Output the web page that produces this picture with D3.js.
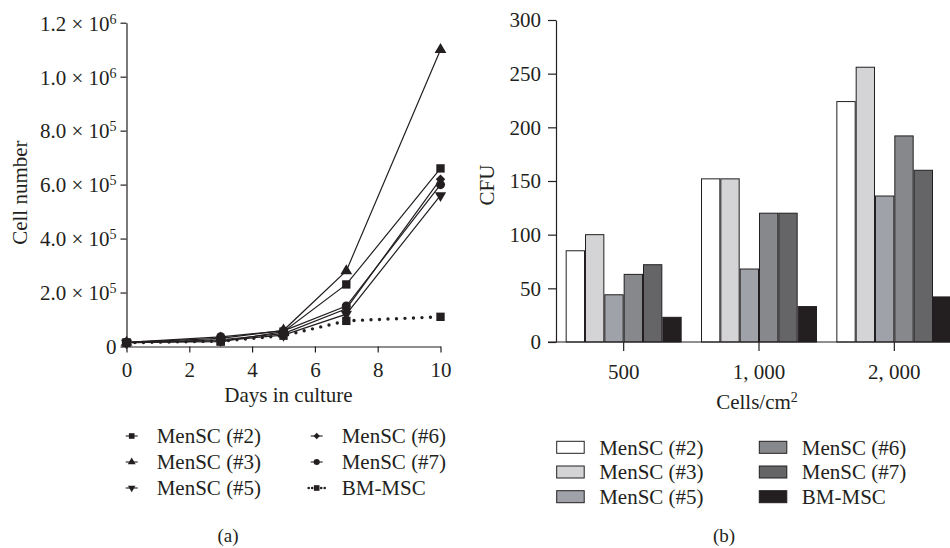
<!DOCTYPE html>
<html>
<head>
<meta charset="utf-8">
<script src="https://cdn.jsdelivr.net/npm/d3@7"></script>
<style>
  html, body { margin: 0; padding: 0; background: #fff; }
  svg { display: block; }
  text { font-family: "Liberation Serif", "Times New Roman", serif; fill: #231f20; }
</style>
</head>
<body>
<svg id="chart" width="950" height="548"></svg>
<script>
// ---------- Data: panel (a) growth curves ----------
const days = [0, 3, 5, 7, 10];
const growthSeries = ["MenSC (#2)", "MenSC (#3)", "MenSC (#5)", "MenSC (#6)", "MenSC (#7)", "BM-MSC"];
const menSC2 = [15000, 18000, 55000, 230000, 660000];
const menSC3 = [15000, 30000, 60000, 280000, 1100000];
const menSC5 = [13000, 22000, 42000, 120000, 560000];
const menSC6 = [14000, 25000, 48000, 140000, 620000];
const menSC7 = [15000, 36000, 58000, 150000, 600000];
const bmMSC  = [14000, 20000, 40000, 95000, 110000];
const growthYTicks = [0, 200000, 400000, 600000, 800000, 1000000, 1200000];
const growthXTicks = [0, 2, 4, 6, 8, 10];

// ---------- Data: panel (b) CFU ----------
const densities = ["500", "1, 000", "2, 000"];
const cfuSeries = ["MenSC (#2)", "MenSC (#3)", "MenSC (#5)", "MenSC (#6)", "MenSC (#7)", "BM-MSC"];
const cfuMenSC2 = [85, 152, 224];
const cfuMenSC3 = [100, 152, 256];
const cfuMenSC5 = [44, 68, 136];
const cfuMenSC6 = [63, 120, 192];
const cfuMenSC7 = [72, 120, 160];
const cfuBM     = [23, 33, 42];
const cfuYTicks = [0, 50, 100, 150, 200, 250, 300];

const ink = "#231f20";
const FS = "21px";
const SUP = "14px";
const svg = d3.select("#chart");

// =================== Panel (a) ===================
const A = { left: 126.5, right: 440.5, top: 22.7, bottom: 346.5 };
const xA = d3.scaleLinear().domain([0, 10]).range([A.left, A.right]);
const yA = d3.scaleLinear().domain([0, 1200000]).range([A.bottom, A.top]);

const gA = svg.append("g");

const xAxisA = d3.axisBottom(xA).tickValues(growthXTicks).tickSize(6).tickSizeOuter(0).tickFormat(d3.format("d"));
const gxA = gA.append("g").attr("transform", `translate(0,${A.bottom})`).call(xAxisA);
gxA.selectAll("text").attr("dy", 0).attr("y", 30).style("font-size", FS).style("font-family", "Liberation Serif");

const yAxisA = d3.axisLeft(yA).tickValues(growthYTicks).tickSize(6).tickSizeOuter(0).tickFormat(() => "");
const gyA = gA.append("g").attr("transform", `translate(${A.left},0)`).call(yAxisA);
[gxA, gyA].forEach(g => {
  g.select(".domain").attr("stroke", ink).attr("stroke-width", 1.2);
  g.selectAll(".tick line").attr("stroke", ink).attr("stroke-width", 1.2);
});
gyA.selectAll(".tick").each(function (d) {
  const t = d3.select(this).append("text")
    .attr("x", -10).attr("y", 0).attr("dy", "0.35em")
    .attr("text-anchor", "end")
    .style("font-size", FS);
  if (d === 0) { t.text("0"); return; }
  const exp = Math.floor(Math.log10(d));
  const mant = d / Math.pow(10, exp);
  t.append("tspan").text(mant.toFixed(1) + " \u00d7 10");
  t.append("tspan").attr("dy", "-0.5em").style("font-size", SUP).text(exp);
});

gA.append("text").attr("x", (A.left + A.right) / 2 + 5).attr("y", 402)
  .attr("text-anchor", "middle").style("font-size", FS).text("Days in culture");
gA.append("text").attr("transform", `translate(27,${(A.top + A.bottom) / 2 + 8}) rotate(-90)`)
  .attr("text-anchor", "middle").style("font-size", FS).text("Cell number");

const symSquare = d3.symbol().type(d3.symbolSquare);
const symTri = d3.symbol().type(d3.symbolTriangle);
const symCircle = d3.symbol().type(d3.symbolCircle);
const growthData = [
  { name: growthSeries[0], values: menSC2, shape: symSquare, size: 70, rot: 0, dotted: false },
  { name: growthSeries[1], values: menSC3, shape: symTri, size: 60, rot: 0, dotted: false },
  { name: growthSeries[2], values: menSC5, shape: symTri, size: 55, rot: 180, dotted: false },
  { name: growthSeries[3], values: menSC6, shape: symSquare, size: 45, rot: 45, dotted: false },
  { name: growthSeries[4], values: menSC7, shape: symCircle, size: 65, rot: 0, dotted: false },
  { name: growthSeries[5], values: bmMSC, shape: symSquare, size: 70, rot: 0, dotted: true }
];
const line = d3.line().x((d, i) => xA(days[i])).y(d => yA(d));
growthData.forEach(s => {
  gA.append("path").attr("d", line(s.values)).attr("fill", "none")
    .attr("stroke", ink)
    .attr("stroke-width", s.dotted ? 3.4 : 1.2)
    .attr("stroke-dasharray", s.dotted ? "0 8.5" : null)
    .attr("stroke-linecap", s.dotted ? "round" : "butt");
});
growthData.forEach(s => {
  gA.selectAll(null).data(s.values).enter().append("path")
    .attr("d", s.shape.size(s.size)())
    .attr("transform", (d, i) => `translate(${xA(days[i])},${yA(d)}) rotate(${s.rot})`)
    .attr("fill", ink);
});

// legend (a)
const legA = gA.append("g");
const legAPos = [[0, 0], [0, 1], [0, 2], [1, 0], [1, 1], [1, 2]];
growthData.forEach((s, i) => {
  const [c, r] = legAPos[i];
  const x0 = 131.7 + c * 185, y0 = 436 + r * 26;
  const g = legA.append("g").attr("transform", `translate(${x0},${y0})`);
  if (s.dotted) {
    [-8, -4.5, 4.5, 8].forEach(dx => g.append("circle").attr("cx", dx).attr("cy", 0).attr("r", 1.3).attr("fill", ink));
  } else {
    g.append("line").attr("x1", -6).attr("x2", 6).attr("stroke", ink).attr("stroke-width", 1.1);
  }
  g.append("path").attr("d", s.shape.size(s.size * 0.45)()).attr("transform", `rotate(${s.rot})`).attr("fill", ink);
  g.append("text").attr("x", 25).attr("y", 0).attr("dy", "0.35em").style("font-size", FS).text(s.name);
});
gA.append("text").attr("x", 228).attr("y", 535).attr("dy", "0.35em").attr("text-anchor", "middle")
  .style("font-size", "19px").text("(a)");

// =================== Panel (b) ===================
const B = { left: 556, top: 20, bottom: 342 };
const x0B = d3.scaleBand().domain(densities).range([556, 962]).padding(0);
const innerW = x0B.bandwidth() * 0.857;
const x1B = d3.scaleBand().domain(cfuSeries).range([0, innerW]).padding(0);
const yB = d3.scaleLinear().domain([0, 300]).range([B.bottom, B.top]);
const cfuColors = ["#ffffff", "#d4d4d6", "#a0a2aa", "#87888c", "#656568", "#231f20"];
const cfuValues = [cfuMenSC2, cfuMenSC3, cfuMenSC5, cfuMenSC6, cfuMenSC7, cfuBM];
const color = d3.scaleOrdinal().domain(cfuSeries).range(cfuColors);

const gB = svg.append("g");
densities.forEach((dens, di) => {
  const gx = x0B(dens) + (x0B.bandwidth() - innerW) / 2;
  cfuSeries.forEach((s, si) => {
    const v = cfuValues[si][di];
    gB.append("rect")
      .attr("x", gx + x1B(s) + 0.5).attr("width", x1B.bandwidth() - 1)
      .attr("y", yB(v)).attr("height", yB(0) - yB(v))
      .attr("fill", color(s)).attr("stroke", ink).attr("stroke-width", 1);
  });
});

const yAxisB = d3.axisLeft(yB).tickValues(cfuYTicks).tickSize(8).tickSizeOuter(0);
const gyB = gB.append("g").attr("transform", `translate(${B.left},0)`).call(yAxisB);
gyB.selectAll("text").attr("x", -15).style("font-size", FS).style("font-family", "Liberation Serif");
gB.append("line").attr("x1", B.left - 8).attr("x2", 950).attr("y1", B.bottom).attr("y2", B.bottom)
  .attr("stroke", ink).attr("stroke-width", 1.2);
const xAxisB = d3.axisBottom(x0B).tickSize(9).tickSizeOuter(0);
const gxB = gB.append("g").attr("transform", `translate(0,${B.bottom})`).call(xAxisB);
gxB.select(".domain").remove();
gxB.selectAll("text").attr("dy", 0).attr("y", 37).style("font-size", FS).style("font-family", "Liberation Serif");
[gyB, gxB].forEach(g => {
  g.select(".domain").attr("stroke", ink).attr("stroke-width", 1.2);
  g.selectAll(".tick line").attr("stroke", ink).attr("stroke-width", 1.2);
});

const xt = gB.append("text").attr("x", 757).attr("y", 409).attr("text-anchor", "middle").style("font-size", FS);
xt.append("tspan").text("Cells/cm");
xt.append("tspan").attr("dy", "-0.5em").style("font-size", SUP).text("2");
gB.append("text").attr("transform", `translate(494,${(B.top + B.bottom) / 2 + 4}) rotate(-90)`)
  .attr("text-anchor", "middle").style("font-size", FS).text("CFU");

// legend (b)
const legB = gB.append("g");
cfuSeries.forEach((s, i) => {
  const c = Math.floor(i / 3), r = i % 3;
  const x0 = 556.7 + c * 202.6, y0 = 447.3 + r * 24.7;
  legB.append("rect").attr("x", x0).attr("y", y0 - 6).attr("width", 27.5).attr("height", 12)
    .attr("fill", color(s)).attr("stroke", ink).attr("stroke-width", 1);
  legB.append("text").attr("x", x0 + 42.5).attr("y", y0).attr("dy", "0.35em").style("font-size", FS).text(s);
});
gB.append("text").attr("x", 724).attr("y", 535).attr("dy", "0.35em").attr("text-anchor", "middle")
  .style("font-size", "19px").text("(b)");
</script>
</body>
</html>
